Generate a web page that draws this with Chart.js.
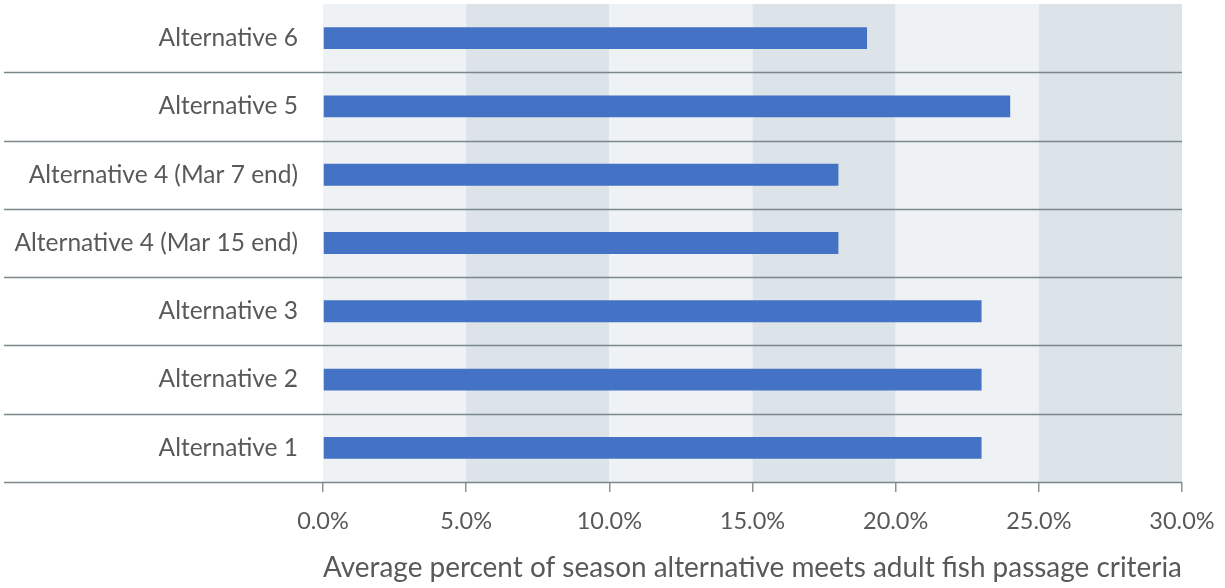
<!DOCTYPE html>
<html>
<head>
<meta charset="utf-8">
<script src="https://cdn.jsdelivr.net/npm/chart.js@4/dist/chart.umd.min.js"></script>
<style>
  html, body { margin: 0; padding: 0; background: #ffffff; }
  #wrap { width: 1225px; height: 588px; position: relative; }
</style>
</head>
<body>
<div id="wrap"><canvas id="c"></canvas></div>
<script>
// Alternatives, listed top to bottom
const categories = [
  'Alternative 6',
  'Alternative 5',
  'Alternative 4 (Mar 7 end)',
  'Alternative 4 (Mar 15 end)',
  'Alternative 3',
  'Alternative 2',
  'Alternative 1'
];
// Average percent of season meeting adult fish passage criteria
const passagePercent = [19, 24, 18, 18, 23, 23, 23];
const xTicks = [0, 5, 10, 15, 20, 25, 30];

const FONT = 'Lato, "Open Sans", sans-serif';
const TEXT = '#595959';

// Alternating vertical bands behind the bars, plus separator rules between rows
const bandsAndRules = {
  id: 'bandsAndRules',
  beforeDatasetsDraw(chart) {
    const { ctx, chartArea, scales } = chart;
    const x = scales.x, y = scales.y;
    ctx.save();
    for (let i = 0; i < xTicks.length - 1; i++) {
      const x0 = x.getPixelForValue(xTicks[i]);
      const x1 = x.getPixelForValue(xTicks[i + 1]);
      ctx.fillStyle = i % 2 === 0 ? '#EEF2F5' : '#DCE3E9';
      ctx.fillRect(x0, chartArea.top, x1 - x0, chartArea.bottom - chartArea.top);
    }
    ctx.strokeStyle = '#7A878C';
    ctx.lineWidth = 1.5;
    for (let i = 1; i <= categories.length; i++) {
      const yy = Math.round(y.getPixelForValue(i - 0.5)) + 0.5;
      ctx.beginPath();
      ctx.moveTo(4, yy);
      ctx.lineTo(chartArea.right, yy);
      ctx.stroke();
    }
    ctx.restore();
  }
};

new Chart(document.getElementById('c'), {
  type: 'bar',
  data: {
    labels: categories,
    datasets: [{
      data: passagePercent,
      backgroundColor: '#4472C4',
      borderWidth: 0,
      categoryPercentage: 1,
      barPercentage: 0.32
    }]
  },
  options: {
    indexAxis: 'y',
    responsive: true,
    maintainAspectRatio: false,
    animation: false,
    layout: { padding: { left: 0, right: 43, top: 4, bottom: 0 } },
    plugins: {
      legend: { display: false },
      tooltip: { enabled: false }
    },
    scales: {
      x: {
        min: 0,
        max: 30,
        afterBuildTicks(scale) { scale.ticks = xTicks.map(v => ({ value: v })); },
        afterFit(scale) {
          scale.height = 106;
          scale.paddingLeft = 0;
          scale.paddingRight = 0;
        },
        grid: {
          display: true,
          drawOnChartArea: false,
          drawTicks: true,
          tickLength: 10,
          color: '#8A9498',
          lineWidth: 1.5
        },
        border: { display: false },
        ticks: {
          color: TEXT,
          font: { family: FONT, size: 23.5 },
          padding: 15,
          maxRotation: 0,
          callback: v => Number(v).toFixed(1) + '%'
        },
        title: {
          display: true,
          text: 'Average percent of season alternative meets adult fish passage criteria',
          color: TEXT,
          font: { family: FONT, size: 28.5 },
          padding: { top: 6, bottom: 3 }
        }
      },
      y: {
        afterFit(scale) {
          scale.width = 323;
          scale.paddingTop = 0;
          scale.paddingBottom = 0;
        },
        grid: { display: false, drawTicks: false },
        border: { display: false },
        ticks: {
          color: TEXT,
          font: { family: FONT, size: 24.5 },
          padding: 25
        }
      }
    }
  },
  plugins: [bandsAndRules]
});
</script>
</body>
</html>
